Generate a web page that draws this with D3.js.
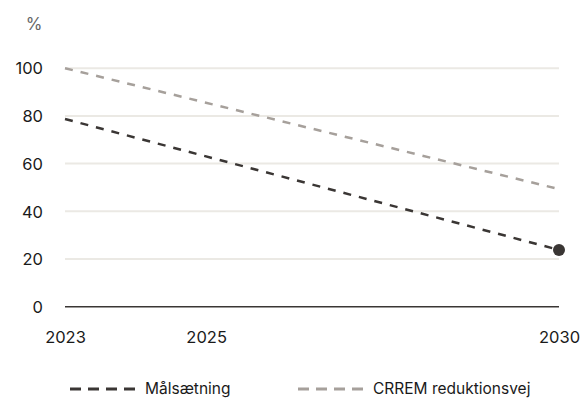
<!DOCTYPE html>
<html><head><meta charset="utf-8">
<script src="https://cdn.jsdelivr.net/npm/d3@7"></script>
<style>body{margin:0;background:#fff}svg{display:block}text{font-family:Inter,"Noto Sans",sans-serif}</style>
</head><body><div id="chart"></div>
<script>
const years = [2023, 2030];
const targetValues = [78.7, 23.8];
const crremValues = [100, 49.3];
const yTicks = [0, 20, 40, 60, 80, 100];
const xTicks = [2023, 2025, 2030];
const seriesNames = ["Målsætning", "CRREM reduktionsvej"];
const unitLabel = "%";

const W = 583, H = 400;
const svg = d3.select("#chart").append("svg").attr("width", W).attr("height", H);
const x = d3.scaleLinear().domain([2023, 2030]).range([65, 559]);
const y = d3.scaleLinear().domain([0, 100]).range([306.7, 68.2]);

const yAxis = d3.axisLeft(y).tickValues(yTicks).tickSize(0).tickPadding(0).tickFormat(d3.format("d"));
const gy = svg.append("g").attr("transform", "translate(43,0)").call(yAxis);
gy.select(".domain").remove();
gy.selectAll("text").attr("font-size", 16.5).attr("fill", "#1a1a1a").attr("dy", "0.35em");
svg.append("g").selectAll("line").data(yTicks.filter(d => d > 0)).join("line")
  .attr("x1", x(2023)).attr("x2", x(2030)).attr("y1", d => y(d)).attr("y2", d => y(d))
  .attr("stroke", "#ebe9e4").attr("stroke-width", 2);
svg.append("line").attr("x1", x(2023)).attr("x2", x(2030)).attr("y1", y(0)).attr("y2", y(0))
  .attr("stroke", "#3a3634").attr("stroke-width", 1.5);

const xAxis = d3.axisBottom(x).tickValues(xTicks).tickSize(0).tickPadding(0).tickFormat(d3.format("d"));
const gx = svg.append("g").attr("transform", "translate(0,337)").call(xAxis);
gx.select(".domain").remove();
gx.selectAll("text").attr("font-size", 16.5).attr("fill", "#1a1a1a").attr("dy", "0.35em");

svg.append("text").attr("x", 34).attr("y", 24).attr("text-anchor", "middle").attr("dy", "0.35em")
  .attr("font-size", 17).attr("fill", "#666").text(unitLabel);

const line = d3.line().x((d, i) => x(years[i])).y(d => y(d));
svg.append("path").datum(crremValues).attr("d", line).attr("fill", "none")
  .attr("stroke", "#a6a09b").attr("stroke-width", 2.5).attr("stroke-dasharray", "8,8");
svg.append("path").datum(targetValues).attr("d", line).attr("fill", "none")
  .attr("stroke", "#3a3634").attr("stroke-width", 2.5).attr("stroke-dasharray", "8,8");
svg.append("circle").attr("cx", x(years[1])).attr("cy", y(targetValues[1])).attr("r", 6).attr("fill", "#3a3634");

const legend = [{name: seriesNames[0], color: "#3a3634", x0: 70}, {name: seriesNames[1], color: "#a6a09b", x0: 298}];
const lg = svg.append("g").selectAll("g").data(legend).join("g");
lg.append("line").attr("x1", d => d.x0).attr("x2", d => d.x0 + 65).attr("y1", 389).attr("y2", 389)
  .attr("stroke", d => d.color).attr("stroke-width", 3).attr("stroke-dasharray", "11,7");
lg.append("text").attr("x", d => d.x0 + 75).attr("y", 389).attr("dy", "0.35em")
  .attr("font-size", 15.5).attr("fill", "#1a1a1a").text(d => d.name);
</script></body></html>
